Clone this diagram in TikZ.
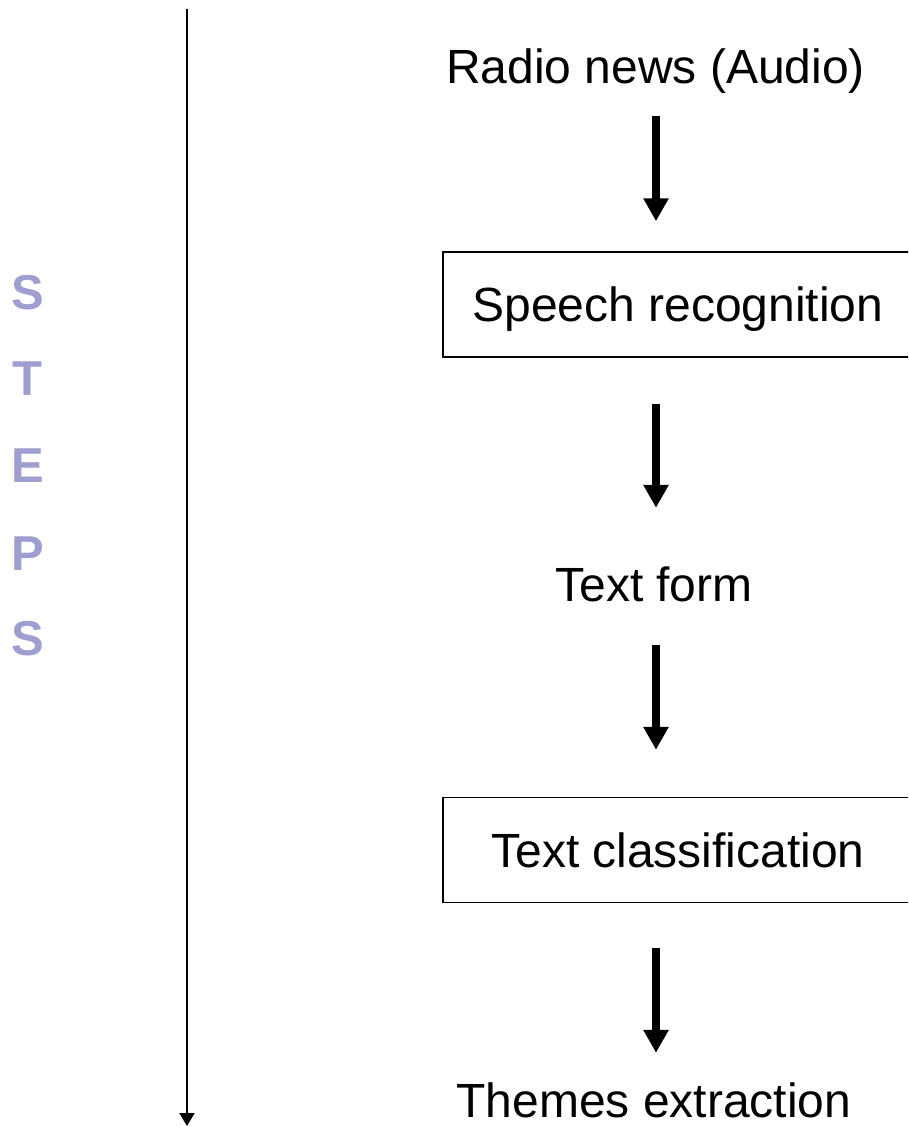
\documentclass[tikz,border=0pt]{standalone}
\usepackage{fontspec}
\setmainfont{Liberation Sans}
\usetikzlibrary{arrows.meta}
\definecolor{stepcol}{RGB}{158,158,208}
\begin{document}
\begin{tikzpicture}[x=1pt,y=-1pt,
  label/.style={inner sep=0pt,font=\fontsize{48}{58}\selectfont,text height=34.4pt,text depth=0pt},
  stagebox/.style={draw,line width=1.5pt,inner sep=0pt,minimum width=470pt,minimum height=105pt,
    font=\fontsize{48}{58}\selectfont,text height=34.4pt,text depth=0pt},
  stepletter/.style={inner sep=0pt,text=stepcol,font=\fontsize{49}{58}\selectfont\bfseries,
    text height=35pt,text depth=0pt},
  flow/.style={line width=8pt,-{Triangle[length=23pt,width=24pt]}},
  timeline/.style={line width=2pt,-{Triangle[length=13pt,width=15pt]}}]
\clip (0,0) rectangle (908,1127);
\fill[white] (0,0) rectangle (908,1127);

% vertical timeline on the left
\coordinate (tltop) at (187,9);
\coordinate (tlend) at (187,1126);
\draw[timeline] (tltop) -- (tlend);

% the word STEPS, one letter per line
\node[stepletter] (s1) at (27.5,292) {S};
\node[stepletter] (s2) at (27.5,378) {T};
\node[stepletter] (s3) at (27.5,465) {E};
\node[stepletter] (s4) at (27.5,553) {P};
\node[stepletter] (s5) at (27.5,638) {S};

% processing chain
\coordinate (spine) at (656,0);
\node[label] (radio) at (655.5,66) {Radio news (Audio)};
\node[stagebox] (speech) at (678,304.5) {Speech recognition};
\node[label] (textform) at (654,584.5) {Text form};
\node[stagebox] (classif) at (678,850) {Text classification};
\node[label] (themes) at (654,1100) {Themes extraction};

\draw[flow,shorten <=33pt,shorten >=30pt] (radio.south -| spine) -- (speech.north -| spine);
\draw[flow,shorten <=46pt,shorten >=59.3pt] (speech.south -| spine) -- (textform.north -| spine);
\draw[flow,shorten <=43.3pt,shorten >=47pt] (textform.south -| spine) -- (classif.north -| spine);
\draw[flow,shorten <=45pt,shorten >=29.8pt] (classif.south -| spine) -- (themes.north -| spine);
\end{tikzpicture}
\end{document}
